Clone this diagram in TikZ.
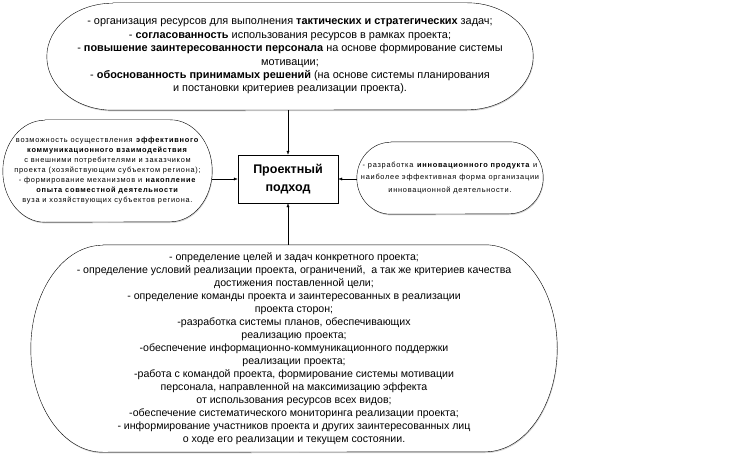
\documentclass[tikz,border=0pt]{standalone}
\usepackage{fontspec}
\setmainfont{Liberation Sans}
\newfontfamily\widefont[LetterSpace=10]{Liberation Sans}
\usepackage{tikz}
\usetikzlibrary{arrows.meta,calc,shadows}

% outline with elliptic ends round a text node
\newcommand{\softframe}[3]{%
  \draw[frame] ($(#1.north west)+(#2,0)$) -- ($(#1.north east)-(#2,0)$)
    arc[start angle=90, end angle=-90, x radius=#2, y radius=#3]
    -- ($(#1.south west)+(#2,0)$)
    arc[start angle=270, end angle=90, x radius=#2, y radius=#3]
    -- cycle;}

\begin{document}
\begin{tikzpicture}[
  x=1pt, y=1pt,
  txt/.style={inner sep=0pt, align=center},
  frame/.style={draw, thin, fill=white,
                drop shadow={shadow xshift=0.6pt, shadow yshift=-1.2pt, opacity=0.35}},
  core/.style={draw, thin, align=center, inner sep=0pt,
               minimum width=100pt, minimum height=48pt,
               font=\fontsize{12.5}{17.5}\selectfont\bfseries},
  arrow/.style={-{Latex[length=4pt,width=3pt]}, thin}
]
\useasboundingbox (0,0) rectangle (730,456);

% ---- Frames first, then texts on top ----
\path (290,399.5) node[txt, text width=486pt, minimum height=107pt] (aims) {};
\path (107.5,285) node[txt, text width=209pt, minimum height=102pt] (link) {};
\path (450,278)   node[txt, text width=186pt, minimum height=72pt] (innov) {};
\path (294,107.5) node[txt, text width=526pt, minimum height=207pt] (tasks) {};

\softframe{aims}{66}{53.5}
\softframe{link}{42}{51}
\softframe{innov}{34}{36}
\softframe{tasks}{72}{103.5}

% ---- Top: resources and motivation ----
\node[txt, font=\fontsize{10.9}{13.4}\selectfont] at (aims)
  {- организация ресурсов для выполнения \textbf{тактических и стратегических} задач;\\
   - \textbf{согласованность} использования ресурсов в рамках проекта;\\
   - \textbf{повышение заинтересованности персонала} на основе формирование системы\\
   мотивации;\\
   - \textbf{обоснованность принимамых решений} (на основе системы планирования\\
   и постановки критериев реализации проекта).};

% ---- Left: communication ----
\node[txt, font=\widefont\fontsize{7.4}{10}\selectfont] at (link)
  {возможность осуществления \textbf{эффективного}\\
   \textbf{коммуникационного взаимодействия}\\
   с внешними потребителями и заказчиком\\
   проекта (хозяйствующим субъектом региона);\\
   - формирование механизмов и \textbf{накопление}\\
   \textbf{опыта совместной деятельности}\\
   вуза и хозяйствующих субъектов региона.};

% ---- Right: innovation ----
\node[txt, font=\widefont\fontsize{7.4}{12.5}\selectfont] at (innov)
  {- разработка \textbf{инновационного продукта} и\\
   наиболее эффективная форма организации\\
   инновационной деятельности.};

% ---- Bottom: project tasks ----
\node[txt, font=\fontsize{10.6}{13}\selectfont] at (tasks)
  {- определение целей и задач конкретного проекта;\\
   - определение условий реализации проекта, ограничений,\ \ а так же критериев качества\\
   достижения поставленной цели;\\
   - определение команды проекта и заинтересованных в реализации\\
   проекта сторон;\\
   -разработка системы планов, обеспечивающих\\
   реализацию проекта;\\
   -обеспечение информационно-коммуникационного поддержки\\
   реализации проекта;\\
   -работа с командой проекта, формирование системы мотивации\\
   персонала, направленной на максимизацию эффекта\\
   от использования ресурсов всех видов;\\
   -обеспечение систематического мониторинга реализации проекта;\\
   - информирование участников проекта и других заинтересованных лиц\\
   о ходе его реализации и текущем состоянии.};

% ---- Centre ----
\node[core] (approach) at (288,277) {Проектный\\ подход};

% ---- Wiring ----
\draw[arrow] (aims.south -| approach) -- (approach.north);
\draw[arrow] (tasks.north -| approach) -- (approach.south);
\draw[arrow] (link.east |- approach) -- (approach.west);
\draw[arrow] (innov.west |- approach) -- (approach.east);
\end{tikzpicture}
\end{document}
